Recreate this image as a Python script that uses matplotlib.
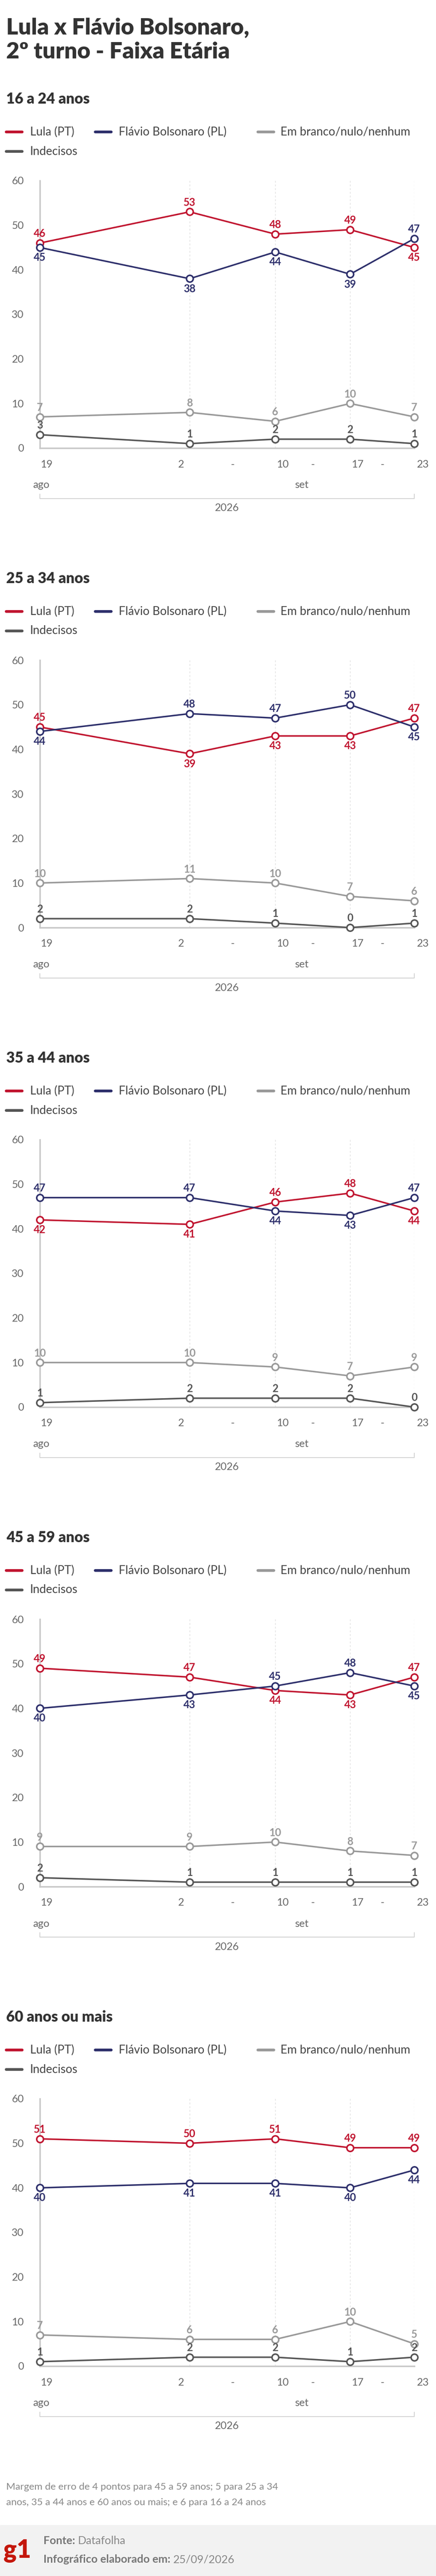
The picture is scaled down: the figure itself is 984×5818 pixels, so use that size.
import matplotlib
matplotlib.use("Agg")
import matplotlib.pyplot as plt
from matplotlib.lines import Line2D

W, H = 984, 5818
plt.rcParams['font.family'] = ['Lato', 'DejaVu Sans']

days = [0, 14, 22, 29, 35]
groups = ["16 a 24 anos", "25 a 34 anos", "35 a 44 anos", "45 a 59 anos", "60 anos ou mais"]
lula = [[46, 53, 48, 49, 45], [45, 39, 43, 43, 47], [42, 41, 46, 48, 44], [49, 47, 44, 43, 47], [51, 50, 51, 49, 49]]
flavio = [[45, 38, 44, 39, 47], [44, 48, 47, 50, 45], [47, 47, 44, 43, 47], [40, 43, 45, 48, 45], [40, 41, 41, 40, 44]]
branco = [[7, 8, 6, 10, 7], [10, 11, 10, 7, 6], [10, 10, 9, 7, 9], [9, 9, 10, 8, 7], [7, 6, 6, 10, 5]]
indec = [[3, 1, 2, 2, 1], [2, 2, 1, 0, 1], [1, 2, 2, 2, 0], [2, 1, 1, 1, 1], [1, 2, 2, 1, 2]]
names = ["Lula (PT)", "Flávio Bolsonaro (PL)", "Em branco/nulo/nenhum", "Indecisos"]
colors = ["#c0142f", "#2d2f6b", "#999999", "#555555"]
xtick_pos = [0.6, 13.2, 22.7, 29.7, 35.8]
xtick_lab = ["19", "2", "10", "17", "23"]
dash_pos = [18.0, 25.5, 32.0]

fig = plt.figure(figsize=(W / 100, H / 100), dpi=100)
fig.patch.set_facecolor("white")

def fy(py):
    return 1 - py / H

def fx(px):
    return px / W

fig.text(fx(14), fy(62), "Lula x Flávio Bolsonaro,", fontsize=37, fontweight="heavy", color="#333333", va="center")
fig.text(fx(14), fy(117), "2º turno - Faixa Etária", fontsize=37, fontweight="heavy", color="#333333", va="center")

AX_L, AX_R, AX_H = 90, 935, 604
for k, g in enumerate(groups):
    top = 408 + 1083 * k
    fig.text(fx(14), fy(top - 184), g, fontsize=24, fontweight="heavy", color="#333333", va="center")
    legpos = [(12, 68, top - 110), (213, 268, top - 110), (580, 633, top - 110), (12, 68, top - 66)]
    for (sx, tx, yy), nm, c in zip(legpos, names, colors):
        fig.add_artist(Line2D([fx(sx + 2), fx(sx + 38)], [fy(yy), fy(yy)], color=c, lw=4.5, solid_capstyle="round"))
        fig.text(fx(tx), fy(yy), nm, fontsize=19, color="#444444", va="center")
    ax = fig.add_axes([fx(AX_L), fy(top + AX_H), (AX_R - AX_L) / W, AX_H / H])
    ax.set_xlim(0, 35)
    ax.set_ylim(0, 60)
    for s in ["top", "right"]:
        ax.spines[s].set_visible(False)
    for s in ["left", "bottom"]:
        ax.spines[s].set_color("#c8c8c8")
        ax.spines[s].set_linewidth(2.5)
    ax.set_yticks([0, 10, 20, 30, 40, 50, 60])
    ax.tick_params(axis="y", length=0, labelsize=17, labelcolor="#666666", pad=26)
    ax.set_xticks([])
    for d in days[1:]:
        ax.axvline(d, color="#dddddd", lw=1, ls=(0, (3, 3)), zorder=0)
    series = [lula[k], flavio[k], branco[k], indec[k]]
    for i, (vals, c) in enumerate(zip(series, colors)):
        ax.plot(days, vals, color=c, lw=2.5, marker="o", ms=11, mfc="white", mec=c, mew=2.5, clip_on=False, zorder=3)
        for j, (d, v) in enumerate(zip(days, vals)):
            if i == 0:
                up = v >= flavio[k][j]
            elif i == 1:
                up = v > lula[k][j]
            else:
                up = True
            off = 7 if up else -8
            ax.annotate(str(v), (d, v), xytext=(0, off), textcoords="offset points", ha="center",
                        va="bottom" if up else "top", fontsize=17, fontweight="bold", color=c, zorder=4)
    ybase = fy(top + AX_H + 37)
    for p, l in zip(xtick_pos, xtick_lab):
        fig.text(fx(AX_L + p / 35 * (AX_R - AX_L)), ybase, l, fontsize=17, color="#666666", ha="center", va="center")
    for p in dash_pos:
        fig.text(fx(AX_L + p / 35 * (AX_R - AX_L)), ybase, "-", fontsize=17, color="#666666", ha="center", va="center")
    fig.text(fx(74), fy(top + AX_H + 84), "ago", fontsize=17, color="#666666", va="center")
    fig.text(fx(681), fy(top + AX_H + 84), "set", fontsize=17, color="#666666", ha="center", va="center")
    yb = fy(top + AX_H + 114)
    fig.add_artist(Line2D([fx(AX_L), fx(AX_L), fx(AX_R), fx(AX_R)], [fy(top + AX_H + 104), yb, yb, fy(top + AX_H + 104)],
                          color="#cccccc", lw=1.2))
    fig.text(fx(512), fy(top + AX_H + 136), "2026", fontsize=17, color="#666666", ha="center", va="center")

fig.text(fx(14), fy(5617), "Margem de erro de 4 pontos para 45 a 59 anos; 5 para 25 a 34", fontsize=16, color="#888888", va="center")
fig.text(fx(14), fy(5652), "anos, 35 a 44 anos e 60 anos ou mais; e 6 para 16 a 24 anos", fontsize=16, color="#888888", va="center")
fig.add_artist(plt.Rectangle((0, 0), 1, (H - 5703) / H, transform=fig.transFigure, color="#f2f2f2", zorder=0))
fig.text(fx(8), fy(5762), "g1", fontsize=40, fontweight="heavy", color="#c4170c", va="center")

renderer = fig.canvas.get_renderer()
for yy, lab, val in [(5738, "Fonte:", "Datafolha"), (5781, "Infográfico elaborado em:", "25/09/2026")]:
    t = fig.text(fx(98), fy(yy), lab, fontsize=18, fontweight="bold", color="#777777", va="center")
    bb = t.get_window_extent(renderer)
    fig.text(fx(bb.x1 + 6), fy(yy), val, fontsize=18, color="#888888", va="center")

fig.savefig("out.png", dpi=100)
